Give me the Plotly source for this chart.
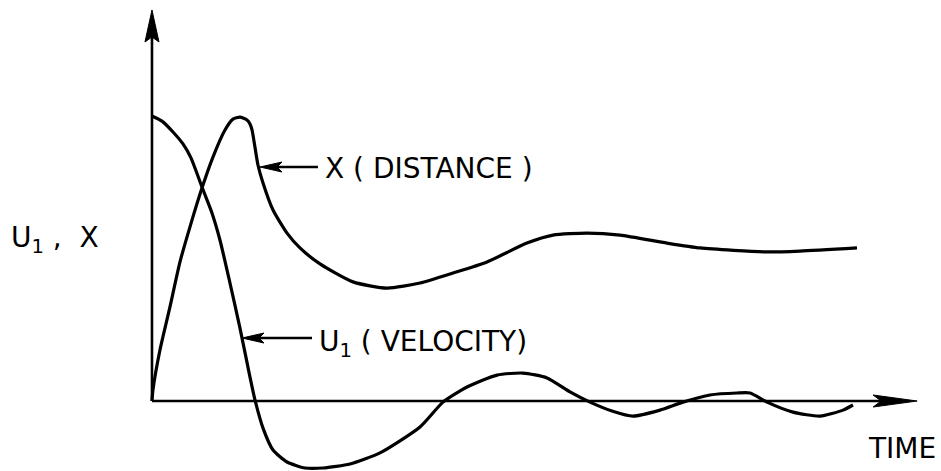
import plotly.graph_objects as go

# ---- data (time in arbitrary units, response normalised to the initial velocity) ----
time_u1 = [0.0, 0.143, 0.3, 0.443, 0.557, 0.714, 0.857, 0.971, 1.114, 1.257, 1.4, 1.471,
           1.586, 1.729, 1.929, 2.186, 2.443, 2.829, 3.257, 3.829, 4.157, 4.5,
           4.929, 5.3, 5.643, 5.971, 6.257, 6.571, 6.871, 7.257, 7.586, 7.971,
           8.357, 8.543, 8.786, 9.157, 9.543, 9.871, 10.014]
u1_velocity = [1.0, 0.982, 0.944, 0.902, 0.853, 0.751, 0.66, 0.565, 0.414, 0.256, 0.084, 0.004,
               -0.095, -0.172, -0.214, -0.235, -0.235, -0.221, -0.182, -0.091, -0.004, 0.049,
               0.091, 0.098, 0.081, 0.032, -0.004, -0.035, -0.053, -0.032, -0.004, 0.021,
               0.028, 0.028, -0.004, -0.039, -0.053, -0.032, -0.014]

time_x = [0.0, 0.014, 0.114, 0.257, 0.4, 0.543, 0.714, 0.871, 1.043, 1.157, 1.257,
          1.357, 1.4, 1.429, 1.471, 1.514, 1.586, 1.729, 1.929, 2.114, 2.4, 2.871, 3.357,
          3.829, 4.3, 4.786, 5.357, 5.729, 6.214, 6.686, 7.357, 7.829, 8.786, 9.257, 10.071]
x_distance = [0.0, 0.039, 0.179, 0.33, 0.488, 0.611, 0.747, 0.856, 0.951, 0.989, 0.996,
              0.986, 0.972, 0.951, 0.891, 0.828, 0.765, 0.67, 0.589, 0.537, 0.481, 0.418, 0.396,
              0.414, 0.449, 0.488, 0.554, 0.582, 0.589, 0.582, 0.554, 0.537, 0.523, 0.526, 0.537]

y_title = "U<sub>1</sub> ,  X"
x_title = "TIME"
label_x = "X ( DISTANCE )"
label_u1 = "U<sub>1</sub> ( VELOCITY)"

# ---- layout constants ----
X_RANGE = [-2.171, 11.271]
Y_RANGE = [-0.2456, 1.407]
T_END = 10.93      # tip of the time axis arrow
V_TOP = 1.372      # tip of the value axis arrow
INK = "black"
FONT = dict(family="DejaVu Sans", size=28, color=INK)

fig = go.Figure()

for t, v in ((time_u1, u1_velocity), (time_x, x_distance)):
    fig.add_trace(go.Scatter(
        x=t, y=v, mode="lines",
        line=dict(color=INK, width=3.2, shape="spline", smoothing=0.6),
        hoverinfo="skip", showlegend=False,
    ))


def arrowhead(xa, ya, path):
    """Filled arrowhead drawn in pixel offsets around a data-space tip."""
    return dict(type="path", xref="x", yref="y", xsizemode="pixel", ysizemode="pixel",
                xanchor=xa, yanchor=ya, path=path,
                fillcolor=INK, line=dict(color=INK, width=1), layer="above")


shapes = [
    # value axis and time axis
    dict(type="line", xref="x", yref="y", x0=0, y0=0, x1=0, y1=V_TOP - 0.05,
         line=dict(color=INK, width=2.6)),
    dict(type="line", xref="x", yref="y", x0=0, y0=0, x1=T_END - 0.2, y1=0,
         line=dict(color=INK, width=2.6)),
    arrowhead(0, V_TOP, "M0,0 L7,-32 L0,-27 L-7,-32 Z"),
    arrowhead(T_END, 0, "M0,0 L-44,6 L-36,0 L-44,-6 Z"),
]

annotations = []

# pointer arrows from the labels to the curves
pointers = [
    # (tip_t, tip_v, tail_t, text_t, text_v, text)
    (1.543, 0.821, 2.371, 2.45, 0.815, label_x),
    (1.286, 0.221, 2.286, 2.36, 0.203, label_u1),
]
for tip_t, tip_v, tail_t, text_t, text_v, text in pointers:
    shapes.append(dict(type="line", xref="x", yref="y", x0=tip_t + 0.1, y0=tip_v,
                       x1=tail_t, y1=tip_v, line=dict(color=INK, width=2.4)))
    shapes.append(arrowhead(tip_t, tip_v, "M0,0 L22,5 L17,0 L22,-5 Z"))
    annotations.append(dict(x=text_t, y=text_v, xref="x", yref="y", text=text,
                            showarrow=False, xanchor="left", yanchor="middle", font=FONT))

annotations.append(dict(x=10.71, y=-0.168, xref="x", yref="y", text=x_title,
                        showarrow=False, xanchor="center", yanchor="middle", font=FONT))
annotations.append(dict(x=-1.39, y=0.565, xref="x", yref="y", text=y_title,
                        showarrow=False, xanchor="center", yanchor="middle", font=FONT))

fig.update_layout(
    width=941, height=471,
    margin=dict(l=0, r=0, t=0, b=0),
    paper_bgcolor="white", plot_bgcolor="white",
    xaxis=dict(range=X_RANGE, visible=False, fixedrange=True),
    yaxis=dict(range=Y_RANGE, visible=False, fixedrange=True),
    shapes=shapes, annotations=annotations,
    showlegend=False,
)

fig.write_html("out.html", config=dict(displayModeBar=False))
